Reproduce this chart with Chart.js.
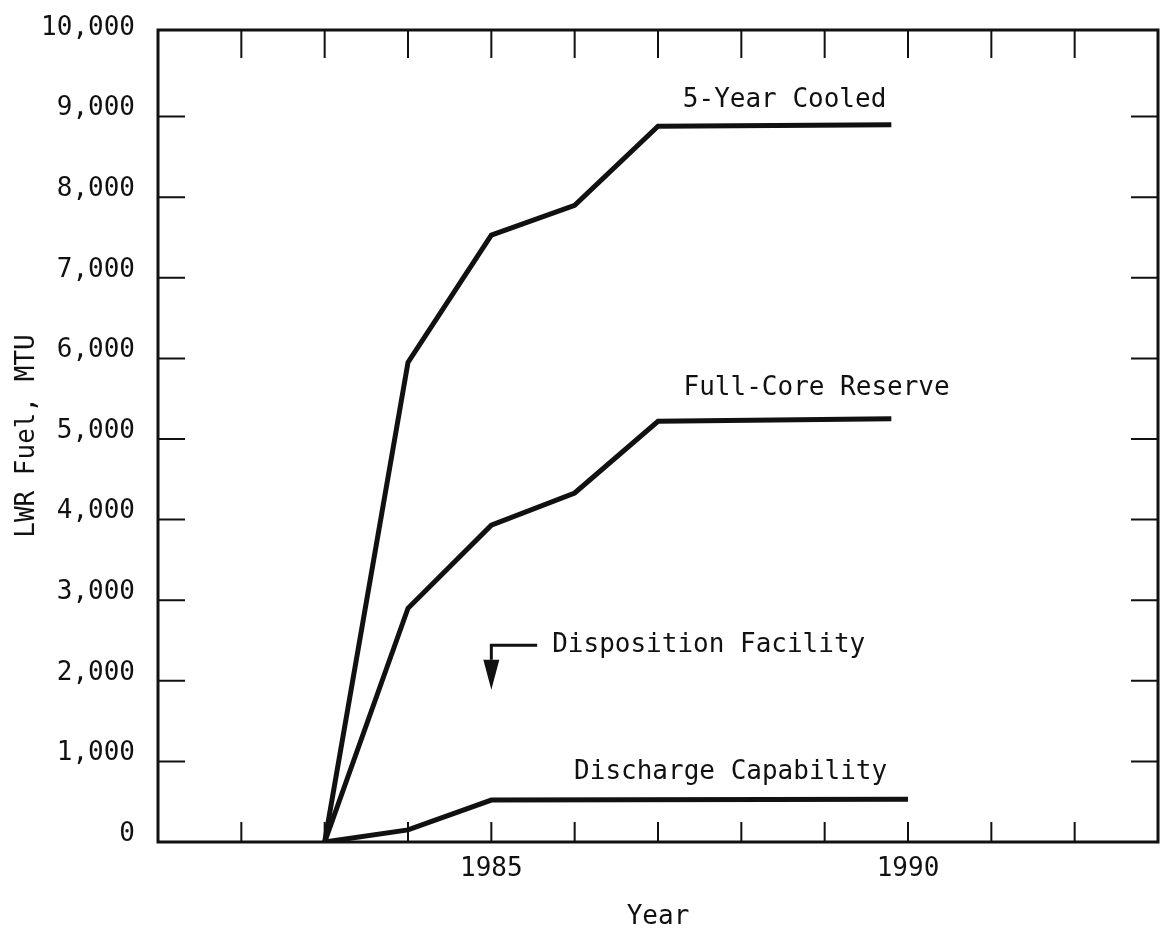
<!DOCTYPE html>
<html>
<head>
<meta charset="utf-8">
<title>LWR Fuel</title>
<script src="https://cdn.jsdelivr.net/npm/chart.js@4.4.1/dist/chart.umd.min.js"></script>
<style>
    html, body { margin: 0; padding: 0; background: #fff; }
    #wrap { width: 1163px; height: 935px; }
</style>
</head>
<body>
<div id="wrap"><canvas id="fuelChart"></canvas></div>
<script>
// values
const upperYears = [1983, 1984, 1985, 1986, 1987, 1989.8];
const fiveYearCooled = [0, 5950, 7530, 7900, 8880, 8900];
const fullCoreReserve = [0, 2900, 3930, 4330, 5220, 5250];
const dischargeYears = [1983, 1984, 1985, 1990];
const dischargeCapability = [0, 150, 520, 530];

const yTickValues = [0, 1000, 2000, 3000, 4000, 5000, 6000, 7000, 8000, 9000, 10000];
const xTickYears = [1982, 1983, 1984, 1985, 1986, 1987, 1988, 1989, 1990, 1991, 1992];
const xLabelYears = [1985, 1990];

// text written next to the curves (x in years, y in MTU)
const curveLabels = [
    { text: '5-Year Cooled', year: 1989.74, mtu: 9200, align: 'right' },
    { text: 'Full-Core Reserve', year: 1990.5, mtu: 5630, align: 'right' },
    { text: 'Disposition Facility', year: 1985.73, mtu: 2440, align: 'left' },
    { text: 'Discharge Capability', year: 1989.75, mtu: 860, align: 'right' },
];
const arrow = { year: 1985, fromYear: 1985.55, mtu: 2440, headMtu: 2260, tipMtu: 1890 };

const ink = '#111';
const font = '"DejaVu Sans Mono", "Liberation Mono", monospace';
const fontSize = 26;

const toPoints = (xs, ys) => xs.map((x, i) => ({ x, y: ys[i] }));
const withCommas = v => String(v).replace(/\B(?=(\d{3})+(?!\d))/g, ',');

const line = (label, data) => ({
    label,
    data,
    borderColor: ink,
    borderWidth: 5,
    pointRadius: 0,
    fill: false,
    tension: 0,
});

const frame = {
    id: 'frame',
    afterDraw(chart) {
        const { ctx, chartArea: a, scales: { x, y } } = chart;
        ctx.save();
        ctx.strokeStyle = ink;
        ctx.lineWidth = 3;
        ctx.strokeRect(a.left, a.top, a.right - a.left, a.bottom - a.top);

        // inward tick marks on all four sides
        ctx.lineWidth = 2;
        ctx.beginPath();
        xTickYears.forEach(yr => {
            const px = x.getPixelForValue(yr);
            ctx.moveTo(px, a.bottom); ctx.lineTo(px, a.bottom - 20);
            ctx.moveTo(px, a.top); ctx.lineTo(px, a.top + 28);
        });
        yTickValues.slice(1, -1).forEach(v => {
            const py = y.getPixelForValue(v);
            ctx.moveTo(a.left, py); ctx.lineTo(a.left + 27, py);
            ctx.moveTo(a.right, py); ctx.lineTo(a.right - 27, py);
        });
        ctx.stroke();

        ctx.fillStyle = ink;
        ctx.font = fontSize + 'px ' + font;
        ctx.textBaseline = 'middle';
        curveLabels.forEach(l => {
            ctx.textAlign = l.align;
            ctx.fillText(l.text, x.getPixelForValue(l.year), y.getPixelForValue(l.mtu));
        });

        // arrow pointing down at 1985
        const ax = x.getPixelForValue(arrow.year);
        const ay = y.getPixelForValue(arrow.mtu);
        const hy = y.getPixelForValue(arrow.headMtu);
        const ty = y.getPixelForValue(arrow.tipMtu);
        ctx.lineWidth = 3;
        ctx.beginPath();
        ctx.moveTo(x.getPixelForValue(arrow.fromYear), ay);
        ctx.lineTo(ax, ay);
        ctx.lineTo(ax, hy);
        ctx.stroke();
        ctx.beginPath();
        ctx.moveTo(ax - 8, hy);
        ctx.lineTo(ax + 8, hy);
        ctx.lineTo(ax, ty);
        ctx.closePath();
        ctx.fill();
        ctx.restore();
    },
};

const config = {
    type: 'line',
    data: {
        datasets: [
            line('5-Year Cooled', toPoints(upperYears, fiveYearCooled)),
            line('Full-Core Reserve', toPoints(upperYears, fullCoreReserve)),
            line('Discharge Capability', toPoints(dischargeYears, dischargeCapability)),
        ],
    },
    options: {
        responsive: true,
        maintainAspectRatio: false,
        animation: false,
        layout: { padding: { top: 30, right: 5, left: 0, bottom: 0 } },
        plugins: {
            legend: { display: false },
            tooltip: { enabled: false },
        },
        scales: {
            x: {
                type: 'linear',
                min: 1981,
                max: 1993,
                afterBuildTicks: s => { s.ticks = xLabelYears.map(v => ({ value: v })); },
                afterFit: s => {
                    s.height = 93;
                    s.paddingLeft = 0;
                    s.paddingRight = 0;
                },
                grid: { display: false, drawTicks: false },
                border: { display: false },
                ticks: {
                    color: ink,
                    font: { family: font, size: fontSize },
                    padding: 12,
                    maxRotation: 0,
                    callback: v => String(v),
                },
                title: {
                    display: true,
                    text: 'Year',
                    color: ink,
                    font: { family: font, size: fontSize },
                    padding: { top: 0, bottom: 2 },
                },
            },
            y: {
                type: 'linear',
                min: 0,
                max: 10074,
                afterBuildTicks: s => { s.ticks = yTickValues.map(v => ({ value: v })); },
                afterFit: s => {
                    s.width = 158;
                    s.paddingTop = 0;
                    s.paddingBottom = 0;
                },
                grid: { display: false, drawTicks: false },
                border: { display: false },
                ticks: {
                    color: ink,
                    font: { family: font, size: fontSize },
                    padding: 23,
                    labelOffset: -8,
                    callback: v => withCommas(v),
                },
                title: {
                    display: true,
                    text: 'LWR Fuel, MTU',
                    color: ink,
                    font: { family: font, size: fontSize },
                    padding: { top: 12, bottom: 0 },
                },
            },
        },
    },
    plugins: [frame],
};

new Chart(document.getElementById('fuelChart'), config);
</script>
</body>
</html>
